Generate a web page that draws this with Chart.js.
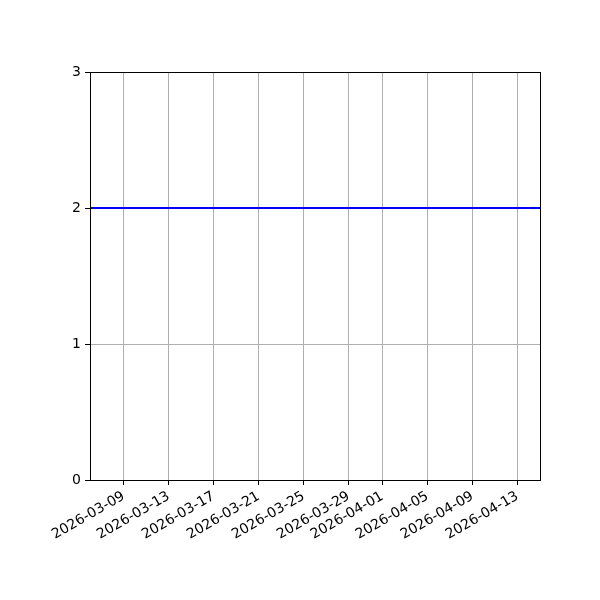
<!DOCTYPE html>
<html>
<head>
<meta charset="utf-8">
<script src="https://cdn.jsdelivr.net/npm/chart.js@4"></script>
<style>
  html, body { margin: 0; padding: 0; background: #fff; }
  #wrap { width: 600px; height: 600px; }
</style>
</head>
<body>
<div id="wrap"><canvas id="chart" width="600" height="600"></canvas></div>
<script>
// data ####################################################
var startDate = '2026-03-06';
var endDate = '2026-04-15';
var dates = [
  '2026-03-06', '2026-03-07', '2026-03-08', '2026-03-09', '2026-03-10', '2026-03-11', '2026-03-12',
  '2026-03-13', '2026-03-14', '2026-03-15', '2026-03-16', '2026-03-17', '2026-03-18', '2026-03-19',
  '2026-03-20', '2026-03-21', '2026-03-22', '2026-03-23', '2026-03-24', '2026-03-25', '2026-03-26',
  '2026-03-27', '2026-03-28', '2026-03-29', '2026-03-30', '2026-03-31', '2026-04-01', '2026-04-02',
  '2026-04-03', '2026-04-04', '2026-04-05', '2026-04-06', '2026-04-07', '2026-04-08', '2026-04-09',
  '2026-04-10', '2026-04-11', '2026-04-12', '2026-04-13', '2026-04-14', '2026-04-15'
];
var values = [
  2, 2, 2, 2, 2, 2, 2,
  2, 2, 2, 2, 2, 2, 2,
  2, 2, 2, 2, 2, 2, 2,
  2, 2, 2, 2, 2, 2, 2,
  2, 2, 2, 2, 2, 2, 2,
  2, 2, 2, 2, 2, 2
];
var xTickLabels = ['2026-03-09', '2026-03-13', '2026-03-17', '2026-03-21', '2026-03-25',
                   '2026-03-29', '2026-04-01', '2026-04-05', '2026-04-09', '2026-04-13'];
var yTicks = [0, 1, 2, 3];

// 日付 -> 開始日からの日数
function dayNum(s) {
  return Math.round((Date.parse(s + 'T00:00:00Z') - Date.parse(startDate + 'T00:00:00Z')) / 86400000);
}
var labelByDay = {};
xTickLabels.forEach(function(l){ labelByDay[dayNum(l)] = l; });

var points = dates.map(function(d, i){ return { x: dayNum(d), y: values[i] }; });

// 枠線 ####################################################
var frame = {
  id: 'frame',
  afterDraw: function(chart) {
    var a = chart.chartArea;
    var c = chart.ctx;
    c.save();
    c.strokeStyle = '#000';
    c.lineWidth = 1;
    c.strokeRect(Math.round(a.left) + 0.5, Math.round(a.top) + 0.5,
                 Math.round(a.right - a.left), Math.round(a.bottom - a.top));
    c.restore();
  }
};

var font = { family: 'DejaVu Sans', size: 14 };

var ctx = document.getElementById('chart').getContext('2d');
var myChart = new Chart(ctx, {
  type: 'line',
  data: {
    datasets: [{
      data: points,
      borderColor: '#0000ff',
      borderWidth: 2,
      pointRadius: 0,
      fill: false,
      tension: 0
    }]
  },
  options: {
    responsive: false,
    animation: false,
    layout: { padding: { top: 72, right: 60, left: 0, bottom: 0 } },
    plugins: { legend: { display: false }, tooltip: { enabled: false } },
    scales: {
      x: {
        type: 'linear',
        min: 0,
        max: dayNum(endDate),
        afterBuildTicks: function(axis) {
          axis.ticks = xTickLabels.map(function(l){ return { value: dayNum(l) }; });
        },
        afterFit: function(axis) { axis.height = 120; },
        grid: { color: '#b0b0b0', tickColor: '#000', tickLength: 5, lineWidth: 1, drawTicks: true },
        border: { color: '#000', width: 1 },
        ticks: {
          color: '#000',
          font: font,
          autoSkip: false,
          minRotation: 30,
          maxRotation: 30,
          padding: 3,
          callback: function(v) { return labelByDay[v] || ''; }
        }
      },
      y: {
        min: 0,
        max: 3,
        afterBuildTicks: function(axis) {
          axis.ticks = yTicks.map(function(v){ return { value: v }; });
        },
        afterFit: function(axis) { axis.width = 90; },
        grid: { color: '#b0b0b0', tickColor: '#000', tickLength: 5, lineWidth: 1 },
        border: { color: '#000', width: 1 },
        ticks: { color: '#000', font: font, padding: 4 }
      }
    }
  },
  plugins: [frame]
});
</script>
</body>
</html>
